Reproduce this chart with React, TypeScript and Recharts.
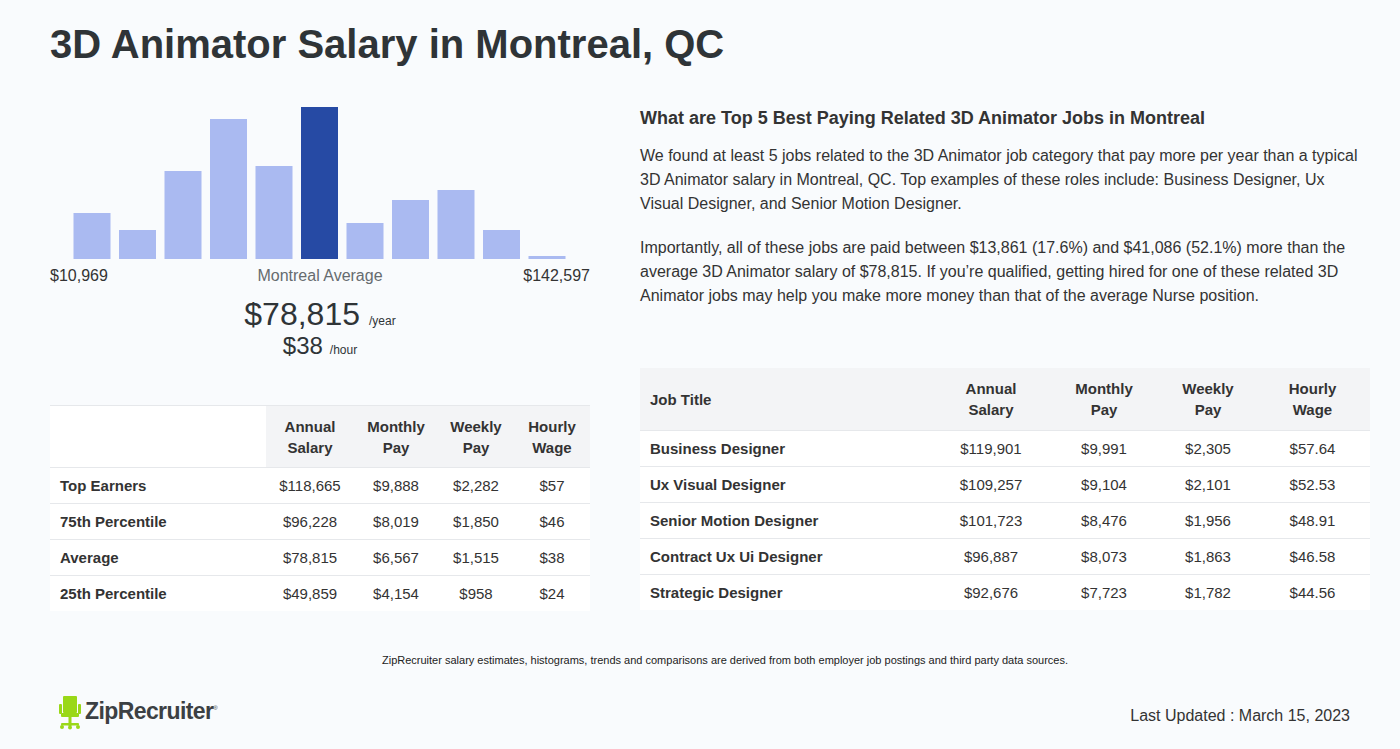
import { BarChart, Bar, Cell, XAxis, YAxis } from 'recharts';

// histogram bins (relative counts)
const bins = ['b1', 'b2', 'b3', 'b4', 'b5', 'b6', 'b7', 'b8', 'b9', 'b10', 'b11'];
const counts = [46, 29, 88, 140, 93, 152, 36, 59, 69, 29, 3];
const avgBin = 5;

const summaryRows = ['Top Earners', '75th Percentile', 'Average', '25th Percentile'];
const summaryAnnual = ['$118,665', '$96,228', '$78,815', '$49,859'];
const summaryMonthly = ['$9,888', '$8,019', '$6,567', '$4,154'];
const summaryWeekly = ['$2,282', '$1,850', '$1,515', '$958'];
const summaryHourly = ['$57', '$46', '$38', '$24'];

const jobTitles = ['Business Designer', 'Ux Visual Designer', 'Senior Motion Designer', 'Contract Ux Ui Designer', 'Strategic Designer'];
const jobAnnual = ['$119,901', '$109,257', '$101,723', '$96,887', '$92,676'];
const jobMonthly = ['$9,991', '$9,104', '$8,476', '$8,073', '$7,723'];
const jobWeekly = ['$2,305', '$2,101', '$1,956', '$1,863', '$1,782'];
const jobHourly = ['$57.64', '$52.53', '$48.91', '$46.58', '$44.56'];

const histData = bins.map((b, i) => ({ bin: b, count: counts[i] }));

const font = '"Liberation Sans", Arial, Helvetica, sans-serif';
const textColor = '#333333';
const lineColor = '#e6e8eb';
const headBg = '#f3f4f6';

const cell = (w: number, align: 'left' | 'center', bold: boolean, extra: any = {}) => ({
  width: w,
  textAlign: align,
  fontWeight: bold ? 700 : 400,
  boxSizing: 'border-box' as const,
  paddingLeft: align === 'left' ? 10 : 0,
  ...extra,
});

const SummaryTable = () => {
  const cols = [216, 88, 84, 76, 76];
  return (
    <div style={{ position: 'absolute', left: 50, top: 405, width: 540, fontSize: 15, color: textColor }}>
      <div style={{ display: 'flex', height: 62, alignItems: 'center', borderTop: `1px solid ${lineColor}`, boxSizing: 'border-box', lineHeight: '21px' }}>
        <div style={{ ...cell(cols[0], 'left', true), height: '100%', background: '#ffffff' }} />
        {['Annual Salary', 'Monthly Pay', 'Weekly Pay', 'Hourly Wage'].map((h, i) => (
          <div key={h} style={{ ...cell(cols[i + 1], 'center', true), height: '100%', background: headBg, display: 'flex', alignItems: 'center', justifyContent: 'center' }}>
            <span>{h.split(' ')[0]}<br />{h.split(' ')[1]}</span>
          </div>
        ))}
      </div>
      {summaryRows.map((r, i) => (
        <div key={r} style={{ display: 'flex', height: 36, alignItems: 'center', background: '#ffffff', borderTop: `1px solid ${lineColor}`, boxSizing: 'border-box' }}>
          <div style={cell(cols[0], 'left', true)}>{r}</div>
          <div style={cell(cols[1], 'center', false)}>{summaryAnnual[i]}</div>
          <div style={cell(cols[2], 'center', false)}>{summaryMonthly[i]}</div>
          <div style={cell(cols[3], 'center', false)}>{summaryWeekly[i]}</div>
          <div style={cell(cols[4], 'center', false)}>{summaryHourly[i]}</div>
        </div>
      ))}
    </div>
  );
};

const JobsTable = () => {
  const cols = [295, 112, 114, 94, 115];
  return (
    <div style={{ position: 'absolute', left: 640, top: 368, width: 730, fontSize: 15, color: textColor }}>
      <div style={{ display: 'flex', height: 62, alignItems: 'center', background: headBg, lineHeight: '21px' }}>
        <div style={cell(cols[0], 'left', true)}>Job Title</div>
        {['Annual Salary', 'Monthly Pay', 'Weekly Pay', 'Hourly Wage'].map((h, i) => (
          <div key={h} style={cell(cols[i + 1], 'center', true)}>
            {h.split(' ')[0]}<br />{h.split(' ')[1]}
          </div>
        ))}
      </div>
      {jobTitles.map((t, i) => (
        <div key={t} style={{ display: 'flex', height: 36, alignItems: 'center', background: '#ffffff', borderTop: `1px solid ${lineColor}`, boxSizing: 'border-box' }}>
          <div style={cell(cols[0], 'left', true)}>{t}</div>
          <div style={cell(cols[1], 'center', false)}>{jobAnnual[i]}</div>
          <div style={cell(cols[2], 'center', false)}>{jobMonthly[i]}</div>
          <div style={cell(cols[3], 'center', false)}>{jobWeekly[i]}</div>
          <div style={cell(cols[4], 'center', false)}>{jobHourly[i]}</div>
        </div>
      ))}
    </div>
  );
};

const Logo = () => (
  <div style={{ position: 'absolute', left: 58, top: 695, display: 'flex', alignItems: 'center' }}>
    <svg width={24} height={35} viewBox="0 0 24 35">
      <rect x={5} y={1} width={14} height={17} rx={1} fill="#9ad818" />
      <rect x={1} y={9} width={3} height={10} rx={1} fill="#9ad818" />
      <rect x={20} y={9} width={3} height={10} rx={1} fill="#9ad818" />
      <rect x={3} y={18} width={18} height={4} rx={1} fill="#9ad818" />
      <rect x={10.5} y={22} width={3} height={9} fill="#9ad818" />
      <rect x={3} y={28} width={18} height={2.5} rx={1} fill="#9ad818" />
      <circle cx={4} cy={32} r={2} fill="#9ad818" />
      <circle cx={20} cy={32} r={2} fill="#9ad818" />
      <circle cx={12} cy={32.5} r={2} fill="#9ad818" />
    </svg>
    <span style={{ fontFamily: font, fontSize: 23, fontWeight: 700, color: '#3c4043', marginLeft: 3, letterSpacing: -0.6, marginTop: -2 }}>
      ZipRecruiter<sup style={{ fontSize: 6, fontWeight: 400 }}>®</sup>
    </span>
  </div>
);

export default function App() {
  return (
    <div style={{ position: 'absolute', left: 0, top: 0, width: 1400, height: 749, background: '#f9fbfd', fontFamily: font, color: textColor, overflow: 'hidden' }}>
      <div style={{ position: 'absolute', left: 50, top: 19, fontSize: 40, fontWeight: 700, color: '#2f3437', lineHeight: '50px' }}>
        3D Animator Salary in Montreal, QC
      </div>

      <div style={{ position: 'absolute', left: 50, top: 95 }}>
        <BarChart width={540} height={170} data={histData} margin={{ top: 12, right: 20, bottom: 6, left: 19.5 }}>
          <XAxis dataKey="bin" hide />
          <YAxis hide domain={[0, 152]} />
          <Bar dataKey="count" barSize={37} isAnimationActive={false}>
            {histData.map((d, i) => (
              <Cell key={d.bin} fill={i === avgBin ? '#264aa4' : '#aabaf1'} />
            ))}
          </Bar>
        </BarChart>
      </div>

      <div style={{ position: 'absolute', left: 50, top: 266, width: 540, height: 20, fontSize: 16, lineHeight: '20px' }}>
        <span style={{ position: 'absolute', left: 0 }}>$10,969</span>
        <span style={{ position: 'absolute', left: 0, width: 540, textAlign: 'center', color: '#666b6f' }}>Montreal Average</span>
        <span style={{ position: 'absolute', right: 0 }}>$142,597</span>
      </div>
      <div style={{ position: 'absolute', left: 50, top: 294, width: 540, textAlign: 'center', color: '#2f3437', lineHeight: '40px' }}>
        <span style={{ fontSize: 32 }}>$78,815</span>
        <span style={{ fontSize: 12, marginLeft: 9 }}>/year</span>
      </div>
      <div style={{ position: 'absolute', left: 50, top: 331, width: 540, textAlign: 'center', color: '#2f3437', lineHeight: '30px' }}>
        <span style={{ fontSize: 24 }}>$38</span>
        <span style={{ fontSize: 12, marginLeft: 7 }}>/hour</span>
      </div>

      <div style={{ position: 'absolute', left: 640, top: 106, width: 730, fontSize: 18, fontWeight: 700, lineHeight: '24px' }}>
        What are Top 5 Best Paying Related 3D Animator Jobs in Montreal
      </div>
      <div style={{ position: 'absolute', left: 640, top: 144, width: 730, fontSize: 16, lineHeight: '24px' }}>
        We found at least 5 jobs related to the 3D Animator job category that pay more per year than a typical 3D Animator salary in Montreal, QC. Top examples of these roles include: Business Designer, Ux Visual Designer, and Senior Motion Designer.
      </div>
      <div style={{ position: 'absolute', left: 640, top: 236, width: 730, fontSize: 16, lineHeight: '24px' }}>
        Importantly, all of these jobs are paid between $13,861 (17.6%) and $41,086 (52.1%) more than the average 3D Animator salary of $78,815. If you’re qualified, getting hired for one of these related 3D Animator jobs may help you make more money than that of the average Nurse position.
      </div>

      <SummaryTable />
      <JobsTable />

      <div style={{ position: 'absolute', left: 0, top: 654, width: 1450, textAlign: 'center', fontSize: 11, color: '#222' }}>
        ZipRecruiter salary estimates, histograms, trends and comparisons are derived from both employer job postings and third party data sources.
      </div>

      <Logo />
      <div style={{ position: 'absolute', right: 50, top: 706, fontSize: 16, lineHeight: '20px' }}>
        Last Updated : March 15, 2023
      </div>
    </div>
  );
}
